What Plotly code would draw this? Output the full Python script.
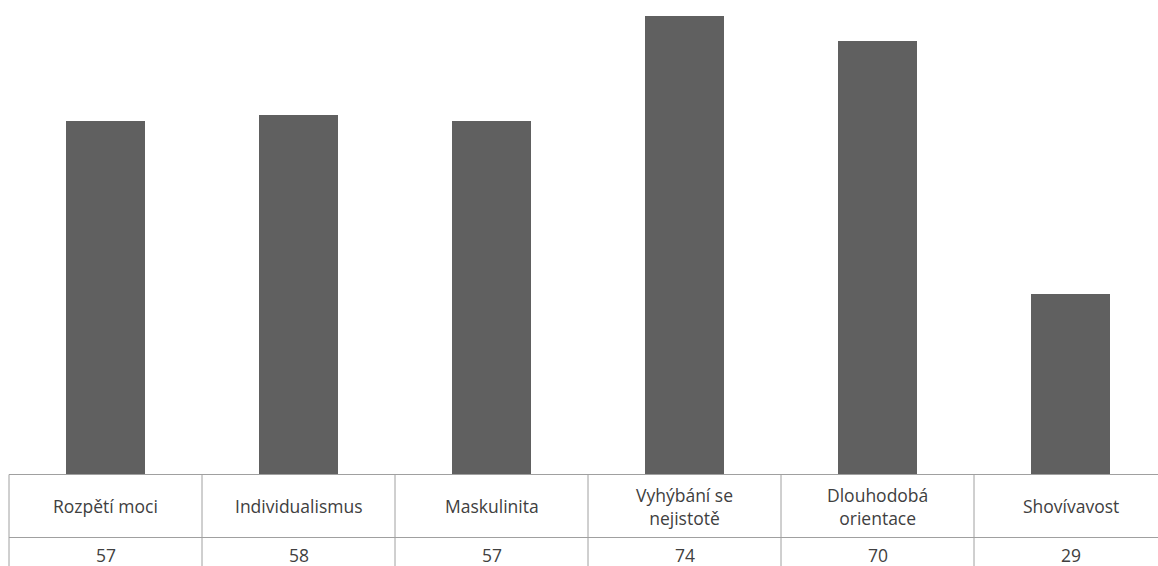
import plotly.graph_objects as go

categories = ["Rozpětí moci", "Individualismus", "Maskulinita",
              "Vyhýbání se nejistotě", "Dlouhodobá orientace", "Shovívavost"]
header_labels = ["Rozpětí moci", "Individualismus", "Maskulinita",
                 "Vyhýbání se<br>nejistotě", "Dlouhodobá<br>orientace", "Shovívavost"]
values = [57, 58, 57, 74, 70, 29]

W, H = 1158, 566
bottom = 92
plot_h = H - bottom
px_per_unit = 6.19
col_w = 193.0
first_center = 105.5

x0 = -first_center / col_w
x1 = x0 + W / col_w

fig = go.Figure()
fig.add_trace(go.Bar(
    x=list(range(len(categories))), y=values,
    marker=dict(color="#606060", line=dict(width=0)),
    width=0.405, hoverinfo="x+y", hovertext=categories,
))

def py(pix):
    # pixel row below top -> paper coordinate
    return (plot_h - pix) / plot_h

line_col = "#a0a0a0"
shapes = []
for yy in (474.5, 537.5):
    shapes.append(dict(type="line", xref="x", yref="paper", x0=-0.5, x1=len(categories) - 0.5,
                       y0=py(yy), y1=py(yy), line=dict(color=line_col, width=1)))
for i in range(len(categories) + 1):
    shapes.append(dict(type="line", xref="x", yref="paper", x0=i - 0.5, x1=i - 0.5,
                       y0=py(474.5), y1=py(H + 2), line=dict(color=line_col, width=1)))

annotations = []
font = dict(family="'Open Sans', sans-serif", size=17.5, color="#404040")
for i, (lab, v) in enumerate(zip(header_labels, values)):
    annotations.append(dict(xref="x", yref="paper", x=i, y=py(506), text=lab, showarrow=False,
                            xanchor="center", yanchor="middle", font=font, align="center"))
    annotations.append(dict(xref="x", yref="paper", x=i, y=py(555), text=str(v), showarrow=False,
                            xanchor="center", yanchor="middle", font=font))

fig.update_layout(
    width=W, height=H,
    margin=dict(l=0, r=0, t=0, b=bottom, pad=0),
    paper_bgcolor="white", plot_bgcolor="white",
    xaxis=dict(range=[x0, x1], showticklabels=False, showgrid=False, zeroline=False,
               showline=False, ticks=""),
    yaxis=dict(range=[0, plot_h / px_per_unit], visible=False, showgrid=False, zeroline=False),
    shapes=shapes, annotations=annotations, showlegend=False, bargap=0,
)

fig.write_html("out.html")
